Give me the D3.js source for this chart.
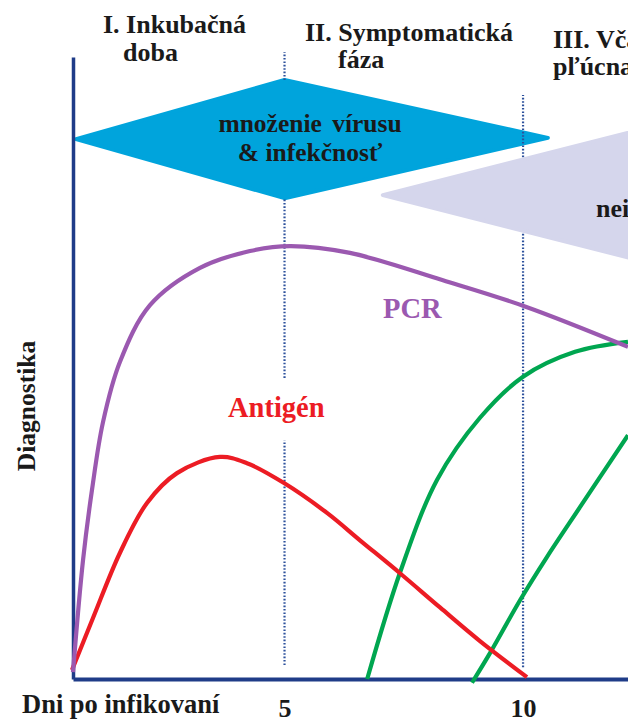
<!DOCTYPE html>
<html><head><meta charset="utf-8">
<script src="https://cdn.jsdelivr.net/npm/d3@7"></script>
<style>html,body{margin:0;padding:0;background:#fff;} svg{display:block;}</style>
</head><body><svg id="c" width="628" height="720"></svg>
<script>
// ---- data (x = days after infection, y = relative diagnostic signal 0-100) ----
const pcrDays      = [0.566,0.776,0.964,1.195,1.551,2.18,3.228,4.276,5.114,6.372,8.321,10.04,12.2];
const pcrValues    = [1.1,19.1,30.4,41.3,51.0,60.1,66.1,68.8,69.6,68.5,64.1,59.9,53.4];
const antigenDays  = [0.545,0.985,1.551,2.117,2.746,3.647,4.213,4.989,5.89,6.582,7.42,8.259,9.097,10.082];
const antigenValues= [1.45,9.8,20.3,28.3,33.1,35.7,34.7,31.5,26.7,22.3,17.0,11.5,6.1,0.3];
const ab1Days      = [6.733,7.425,8.196,9.097,10.0,11.09,12.2];
const ab1Values    = [0,17.2,32.0,42.0,48.6,52.6,54.2];
const ab2Days      = [8.93,9.31,9.94,10.5,11.2,12.2];
const ab2Values    = [-0.6,4.2,12.7,19.6,27.7,39.2];
const xTickValues  = [5,10];
const xTickLabels  = ["5","10"];
const phaseTitles  = [["I. Inkubačná","doba"],["II. Symptomatická","fáza"],["III. Včasná","pľúcna fáza"]];
const curveLabels  = ["PCR","Antigén"];
// dotted phase boundary segments: [day, valueFrom, valueTo]
const boundarySegments = [[5,96.3,100.8],[5,48.4,77.3],[5,2.25,38.4],[10,1.9,93.9]];
// annotation shapes in data units
const infectDiamond = [[0.63,86.8],[5.0,96.3],[10.52,87.0],[5.0,77.3]];
const nonInfectWedge = [[7.06,77.8],[12.7,88.8],[12.7,66.8]];

const F = '"Liberation Serif","Times New Roman",serif';
const svg = d3.select("#c");
svg.append("rect").attr("width",628).attr("height",720).attr("fill","#fff");

const x = d3.scaleLinear().domain([0.566,12.2]).range([73,628]);
const y = d3.scaleLinear().domain([0,100]).range([679,57]);

// cyan diamond
svg.append("polygon")
  .attr("points", infectDiamond.map(p=>[x(p[0]),y(p[1])].join(",")).join(" "))
  .attr("fill","#00a4dc").attr("stroke","#00a4dc").attr("stroke-width",4).attr("stroke-linejoin","round");

// dotted boundaries
svg.selectAll("line.bd").data(boundarySegments).join("line")
  .attr("x1",d=>x(d[0])).attr("x2",d=>x(d[0]))
  .attr("y1",d=>y(d[1])).attr("y2",d=>y(d[2]))
  .attr("stroke","#2c509c").attr("stroke-width",2.2).attr("stroke-dasharray","1.6 1.8");

// lavender wedge
svg.append("polygon")
  .attr("points", nonInfectWedge.map(p=>[x(p[0]),y(p[1])].join(",")).join(" "))
  .attr("fill","#d5d6ec").attr("stroke","#d5d6ec").attr("stroke-width",4).attr("stroke-linejoin","round");

// diamond text
const dt = svg.append("text").attr("font-family",F).attr("font-weight","bold").attr("font-size",25.5)
  .attr("fill","#1a1a1a").attr("text-anchor","middle");
dt.append("tspan").attr("x",310).attr("y",132).attr("word-spacing",4).text("množenie vírusu");
dt.append("tspan").attr("x",310).attr("y",161).text("& infekčnosť");
svg.append("text").attr("x",596).attr("y",217).attr("font-family",F).attr("font-weight","bold")
  .attr("font-size",26).attr("fill","#1a1a1a").text("neinfekčnosť");

// phase titles
const titlePos = [[103,33,123,61],[305,41,338,68],[553,48,553,75]];
phaseTitles.forEach((t,i)=>{
  const p = titlePos[i];
  const g = svg.append("text").attr("font-family",F).attr("font-weight","bold").attr("font-size",26).attr("fill","#1a1a1a");
  g.append("tspan").attr("x",p[0]).attr("y",p[1]).text(t[0]);
  g.append("tspan").attr("x",p[2]).attr("y",p[3]).text(t[1]);
});

// axes
const xAxis = svg.append("g").attr("transform",`translate(0,${y(0)})`)
  .call(d3.axisBottom(x).tickValues(xTickValues).tickFormat((d,i)=>xTickLabels[i]).tickSize(0).tickSizeOuter(0).tickPadding(20));
xAxis.select(".domain").attr("stroke","#1f3c88").attr("stroke-width",4);
xAxis.selectAll("text").attr("font-family",F).attr("font-weight","bold").attr("font-size",26).attr("fill","#1a1a1a");

const yAxis = svg.append("g").attr("transform",`translate(${x.range()[0]},0)`)
  .call(d3.axisLeft(y).tickValues([]).tickSizeOuter(0));
yAxis.select(".domain").attr("stroke","#1f3c88").attr("stroke-width",3.5);

svg.append("text").attr("x",22).attr("y",713).attr("font-family",F).attr("font-weight","bold")
  .attr("font-size",26.5).attr("fill","#1a1a1a").text("Dni po infikovaní");
svg.append("text").attr("transform","translate(35,406) rotate(-90)").attr("text-anchor","middle")
  .attr("font-family",F).attr("font-weight","bold").attr("font-size",25.5).attr("fill","#1a1a1a").text("Diagnostika");

// curves
const line = d3.line().x(d=>x(d[0])).y(d=>y(d[1])).curve(d3.curveCatmullRom.alpha(0.5));
const series = [
  [ab1Days, ab1Values, "#00a650"],
  [ab2Days, ab2Values, "#00a650"],
  [antigenDays, antigenValues, "#ec1c24"],
  [pcrDays, pcrValues, "#9b59b0"]
];
series.forEach(s=>{
  svg.append("path").datum(d3.zip(s[0],s[1])).attr("d",line)
    .attr("fill","none").attr("stroke",s[2]).attr("stroke-width",4.2).attr("stroke-linecap","butt");
});

// curve labels
svg.append("text").attr("x",383).attr("y",318).attr("font-family",F).attr("font-weight","bold")
  .attr("font-size",28.5).attr("fill","#9b59b0").text(curveLabels[0]);
svg.append("text").attr("x",228).attr("y",417).attr("font-family",F).attr("font-weight","bold")
  .attr("font-size",28.5).attr("fill","#ec1c24").text(curveLabels[1]);
</script></body></html>
